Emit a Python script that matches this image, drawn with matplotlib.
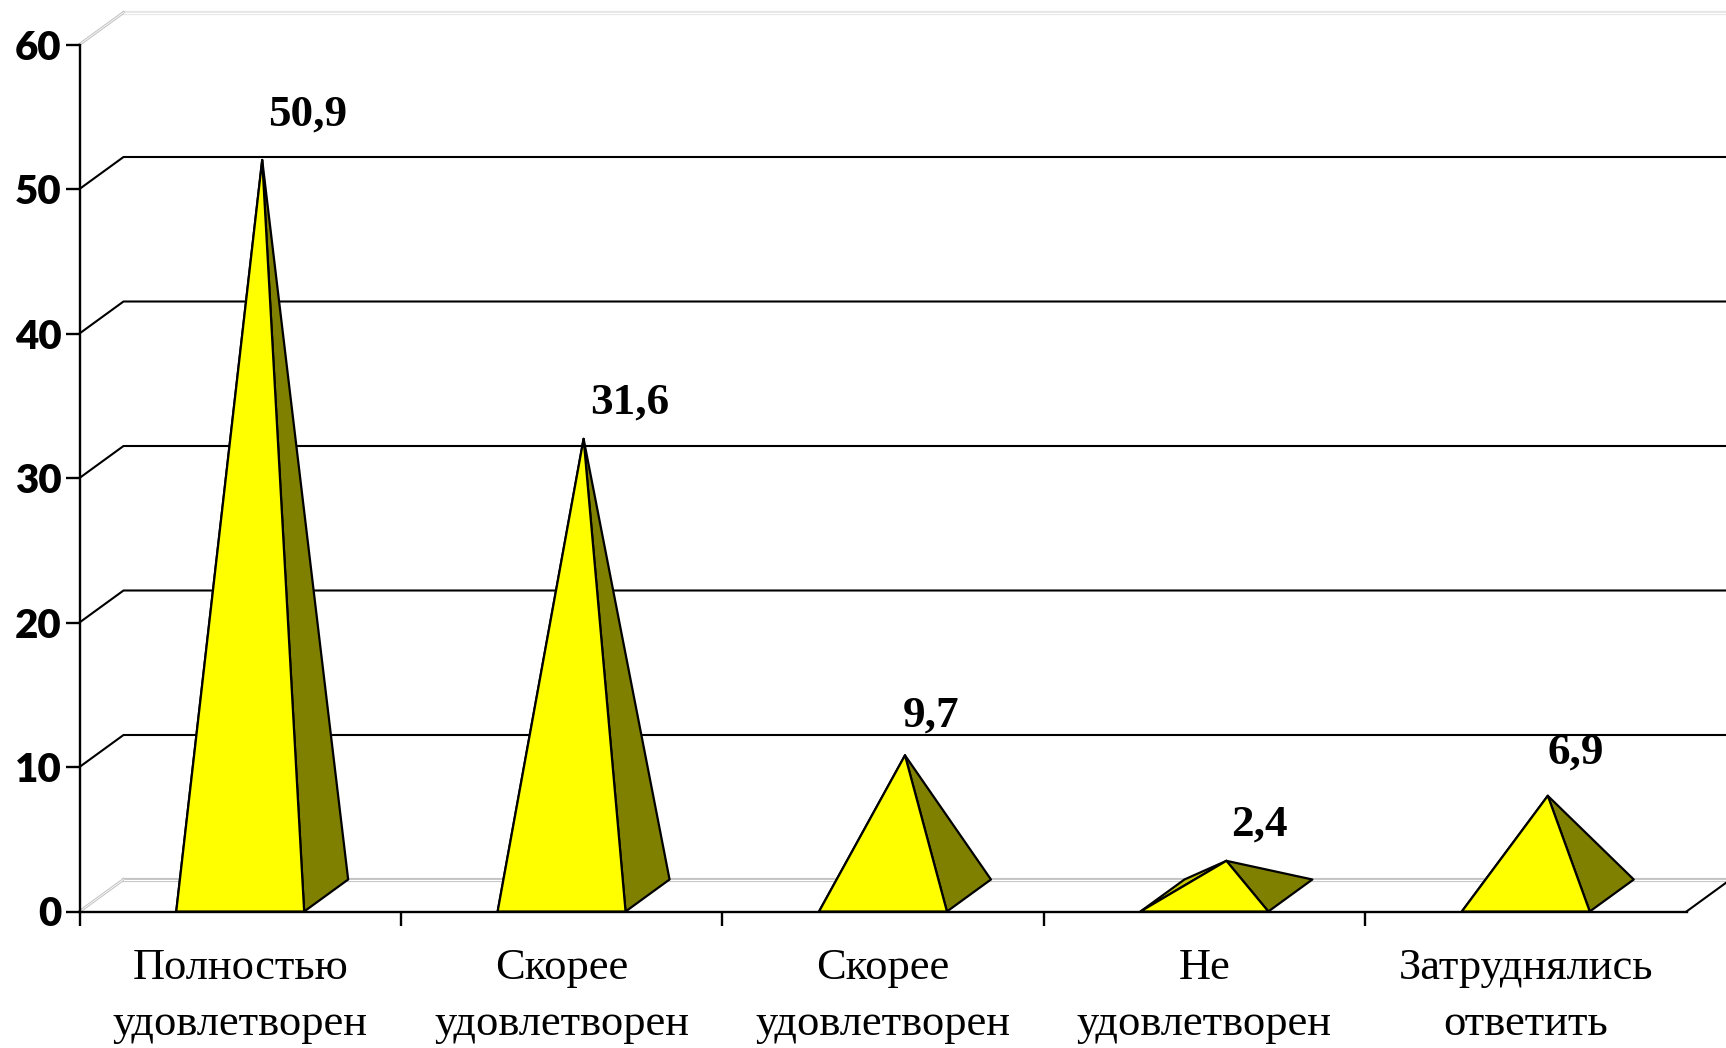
import matplotlib
matplotlib.use('Agg')
import matplotlib.pyplot as plt
from matplotlib.patches import Polygon

# --- DATA ---
categories = ['Полностью\nудовлетворен', 'Скорее\nудовлетворен', 'Скорее\nудовлетворен',
              'Не\nудовлетворен', 'Затруднялись\nответить']
values = [50.9, 31.6, 9.7, 2.4, 6.9]
value_labels = ['50,9', '31,6', '9,7', '2,4', '6,9']
y_ticks = [0, 10, 20, 30, 40, 50, 60]

# --- STYLE ---
W, H = 1726, 1048
left, right, top, bottom = 79.5, 1686.5, 44.5, 911.5

# 3d look: depth of the box in data units (44 px right, 32 px up)
dx = 44 / ((right - left) / 5)
dy = 32 / ((bottom - top) / 60)
half = 0.199  # half base width of a pyramid

label_off = [(33, 33), (33, 26), (19, 29), (24, 26), (20, 31)]  # points, from apex

fig = plt.figure(figsize=(W / 100, H / 100), dpi=100)
ax = fig.add_axes([left / W, 1 - bottom / H, (right - left) / W, (bottom - top) / H])
ax.set_xlim(0, 5)
ax.set_ylim(0, 60)
ax.patch.set_alpha(0)

for s in ['top', 'right']:
    ax.spines[s].set_visible(False)
for s in ['left', 'bottom']:
    ax.spines[s].set_linewidth(1.7)

# --- GRID (side wall + back wall) ---
for v in y_ticks:
    if v in (0, 60):
        col = '#c4c4c4' if v == 0 else '#e6e6e6'
        for c, lw in [(col, 3), ('white', 0.8)]:
            ax.plot([dx, 5 + dx], [v + dy, v + dy], color=c, lw=lw, clip_on=False, zorder=1)
            ax.plot([0, dx], [v, v + dy], color='#c4c4c4' if c != 'white' else c, lw=lw * 0.7,
                    clip_on=False, zorder=1)
    else:
        ax.plot([0, dx, 5 + dx], [v, v + dy, v + dy], color='black', lw=1.5, clip_on=False, zorder=1)
ax.plot([5, 5 + dx], [0, dy], color='black', lw=1.5, clip_on=False, zorder=1)

# --- PYRAMIDS ---
for i, v in enumerate(values):
    xc = i + 0.5
    fl, fr = (xc - half, 0), (xc + half, 0)
    bl, br = (xc - half + dx, dy), (xc + half + dx, dy)
    apex = (xc + dx / 2, v + dy / 2)
    faces = [([fl, bl, apex], '#c8c800'), ([fr, br, apex], '#808000'), ([fl, fr, apex], '#ffff00')]
    for pts, col in faces:
        ax.add_patch(Polygon(pts, closed=True, facecolor=col, edgecolor='black', lw=1.6,
                             joinstyle='round', clip_on=False, zorder=3))
    ax.annotate(value_labels[i], xy=apex, xytext=label_off[i], textcoords='offset points',
                ha='center', va='center', fontsize=32.5, fontweight='bold',
                family='Liberation Serif', color='black', zorder=5)

# --- AXES ---
ax.set_yticks(y_ticks)
ax.set_yticklabels([str(t) for t in y_ticks], fontsize=29, fontweight='heavy', family='Lato')
ax.tick_params(axis='y', length=10, width=1.7, pad=3)

ax.set_xticks([0, 1, 2, 3, 4])
ax.set_xticklabels([])
ax.tick_params(axis='x', which='major', length=10, width=1.7)
ax.set_xticks([i + 0.5 for i in range(5)], minor=True)
ax.set_xticklabels(categories, minor=True, fontsize=32, family='Liberation Serif',
                   linespacing=1.5)
ax.tick_params(axis='x', which='minor', length=0, pad=26.5)

fig.savefig('out.png', dpi=100)
